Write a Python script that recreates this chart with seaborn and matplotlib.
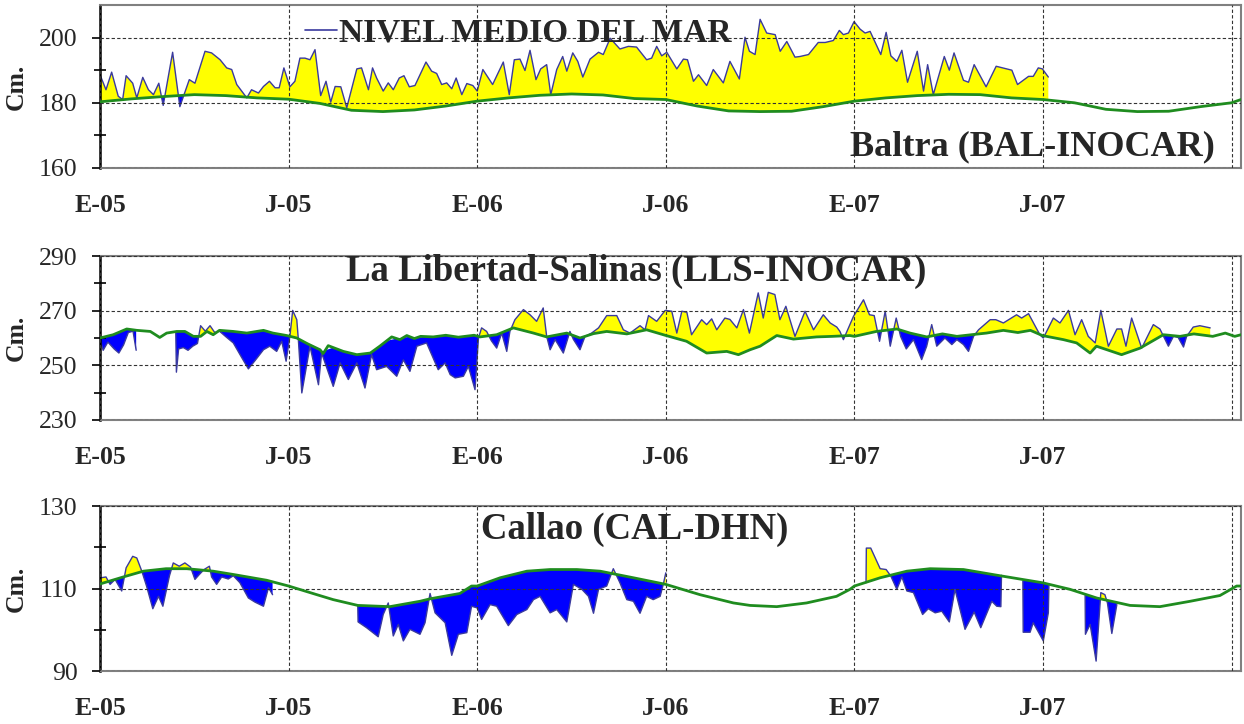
import numpy as np
import matplotlib
matplotlib.use("Agg")
import matplotlib.pyplot as plt
from matplotlib.lines import Line2D
import seaborn as sns

sns.set_theme(style="white")
plt.rcParams['font.family'] = ['Liberation Serif', 'DejaVu Serif']

NAN = np.nan

# ---------------- data (x = months since January 2005) ----------------
tick_months = [0, 6, 12, 18, 24, 30, 36]
tick_labels = ['E-05', 'J-05', 'E-06', 'J-06', 'E-07', 'J-07', '']

# Baltra (BAL-INOCAR)
bal_month = [0, 0.19, 0.37, 0.58, 0.72, 0.83, 1.04, 1.17, 1.36, 1.54, 1.7, 1.87, 2.01, 2.31, 2.54,
             2.84, 3.02, 3.34, 3.55, 3.82, 4.03, 4.19, 4.35, 4.67, 4.82, 5.04, 5.2, 5.39, 5.57, 5.7,
             5.85, 6.04, 6.2, 6.36, 6.52, 6.68, 6.84, 7.02, 7.19, 7.34, 7.48, 7.66, 7.85, 8.17, 8.32,
             8.54, 8.67, 8.8, 9.01, 9.17, 9.33, 9.52, 9.67, 9.84, 10.02, 10.37, 10.55, 10.71, 10.87,
             11.03, 11.19, 11.33, 11.51, 11.67, 11.86, 12.0, 12.18, 12.49, 12.83, 13.02, 13.18, 13.36,
             13.52, 13.68, 13.87, 14.02, 14.21, 14.34, 14.53, 14.72, 14.85, 15.04, 15.2, 15.36, 15.59,
             15.86, 16.01, 16.23, 16.54, 16.81, 17.07, 17.39, 17.55, 17.71, 17.87, 18.03, 18.35, 18.56,
             18.69, 18.88, 19.04, 19.3, 19.51, 19.83, 20.04, 20.34, 20.52, 20.66, 20.84, 21.0, 21.21,
             21.48, 21.64, 21.85, 22.11, 22.27, 22.54, 22.85, 23.07, 23.33, 23.52, 23.65, 23.81, 23.99,
             24.18, 24.34, 24.5, 24.84, 25.01, 25.16, 25.35, 25.51, 25.69, 26.0, 26.2, 26.33, 26.51,
             26.86, 27.02, 27.17, 27.47, 27.63, 27.81, 28.19, 28.51, 29.01, 29.19, 29.54, 29.69, 29.85,
             29.98, 30.17]
bal_level = [188.6, 184, 189.4, 182, 181, 188.3, 186, 181.5, 187.8, 184, 182.5, 186, 179.2, 195.5, 178.8,
             187.1, 186, 195.8, 195.3, 193.2, 190.7, 190.2, 185.6, 181.5, 184, 183, 185, 186.6, 184.6, 184.6,
             190.7, 184.9, 186.6, 193.7, 193.7, 193.2, 196.3, 182.2, 186.6, 180.2, 185, 184.9, 178.5, 190.4, 190.7,
             184, 190.7, 187.6, 183.6, 186.1, 184, 187.6, 188.3, 184.9, 185.3, 192.5, 189.7, 189, 185.6,
             186.1, 184.3, 187.6, 182.5, 185.9, 185.3, 183.6, 190.2, 185.6, 192.5, 182.5, 193.2, 193.4,
             189.9, 196.1, 187.1, 190.4, 191.7, 182.5, 190.2, 194.2, 189.7, 195.3, 192.7, 187.9, 193.4,
             195.5, 194.8, 199.8, 196.5, 197.3, 197.1, 193.2, 193.7, 197.3, 194.4, 195.5, 190.4, 193.4,
             193.2, 186.6, 188.6, 185.3, 190.2, 186.1, 192.7, 187.3, 200.1, 195.8, 194.8, 205.6, 201.4,
             200.9, 195.8, 198.8, 194, 194.2, 194.8, 198.5, 198.5, 199.1, 202.2, 200.9, 201.4, 204.9,
             202.6, 201.4, 201.9, 194.8, 201.6, 194.4, 192.7, 196.1, 186.3, 195.8, 183.6, 191.7, 182.5,
             194.2, 190, 195.3, 186.9, 186.3, 191.7, 184.9, 191.2, 190, 185.6, 188.1, 188.1, 190.7,
             190.4, 187.9]
bal_clim_month = [0, 1, 2, 3, 4, 5, 6, 7, 8, 9, 10, 11, 12, 13, 14, 15, 16, 17, 18, 19, 20, 21, 22, 23, 24,
                  25, 26, 27, 28, 29, 30, 31, 32, 33, 34, 35, 36, 36.3]
bal_clim = [180.3, 181.2, 181.9, 182.5, 182.2, 181.5, 181.1, 179.8, 177.7, 177.3, 177.8, 179.0, 180.5,
            181.5, 182.3, 182.7, 182.4, 181.3, 181.0, 179.0, 177.5, 177.3, 177.4, 178.8, 180.5,
            181.5, 182.2, 182.6, 182.5, 181.5, 181.0, 180.0, 178.0, 177.3, 177.4, 178.8, 180.0, 181.0]

# La Libertad-Salinas (LLS-INOCAR)
lls_month = [0.0, 0.1, 0.25, 0.45, 0.6, 0.75, 0.9, 1.05, 1.15, 1.8,
             2.41, 2.43, 2.5, 2.65, 2.8, 2.95, 3.1, 3.2, 3.35, 3.5, 3.65, 3.8, 4.0, 4.24, 4.5, 4.72,
             4.95, 5.2, 5.4, 5.62, 5.78, 5.92, 6.04, 6.13, 6.26, 6.31, 6.42, 6.68, 6.95, 7.05, 7.42,
             7.64, 7.9, 8.17, 8.43, 8.64, 8.8, 9.12, 9.44, 9.65, 9.86, 10.08, 10.39, 10.76, 10.98,
             11.14, 11.3, 11.56, 11.72, 11.93, 12.04, 12.14, 12.3, 12.45, 12.62, 12.78, 12.94, 13.04,
             13.2, 13.47, 13.68, 13.89, 14.1, 14.21, 14.32, 14.48, 14.74, 14.95, 15.06, 15.27, 15.43,
             15.64, 15.86, 16.12, 16.44, 16.65, 16.86, 17.18, 17.34, 17.45, 17.71, 17.98, 18.19, 18.35,
             18.51, 18.67, 18.82, 19.14, 19.3, 19.46, 19.62, 19.88, 20.04, 20.26, 20.47, 20.66, 20.94,
             21.1, 21.26, 21.47, 21.63, 21.82, 22.11, 22.43, 22.7, 23.01, 23.23, 23.44, 23.54, 23.65,
             23.97, 24.29, 24.48, 24.63, 24.8, 24.98, 25.14, 25.33, 25.47, 25.65, 25.88, 26.14, 26.3,
             26.46, 26.62, 26.88, 27.1, 27.26, 27.47, 27.63, 27.79, 27.95, 28.32, 28.5, 28.74, 29.16,
             29.32, 29.54, 29.9, 30.01, 30.33, 30.54, 30.81, 31.02, 31.23, 31.44, 31.66, 31.84, 32.08,
             32.35, 32.5, 32.64, 32.82, 33.14, 33.51, 33.72, 33.99, 34.15, 34.3, 34.47, 34.57, 34.78,
             34.99, 35.32]
lls_level = [259.5, 255.5, 258.5, 256, 254.5, 257.5, 262, 262.5, 255.5, NAN,
             262, 247.5, 256, 256.5, 255.5, 257, 258, 264.5, 262.5, 264.5, 262, 262.5, 260.5, 258.2, 253, 248.7,
             252, 255.7, 257, 255.1, 258.8, 251.5, 260.6, 270.1, 266.7, 259.4, 239.9, 257, 242.9, 254.5, 242.3,
             250.9, 244.8, 250.9, 241.7, 253.9, 248.4, 249.6, 246, 252, 247.8, 257, 258.2, 248.4, 250.9,
             246.6, 245.4, 246, 249.6, 241.1, 260, 263.7, 262.4, 259, 256.3, 261.8, 255.1, 262.4,
             266.7, 270.4, 268.5, 266.1, 271, 260.6, 255.7, 259.4, 254.5, 262.4, 259.5, 255.7, 260.6,
             261.8, 263.7, 268.2, 268.2, 263, 261.8, 264.5, 263, 268.2, 266.1, 270.1, 269.8, 261.8,
             269.8, 269.4, 261.2, 266.7, 264.9, 267, 263, 267.3, 266.8, 263.7, 270.4, 261.8, 276.5,
             267.3, 276.7, 275.9, 266.7, 271.6, 260.6, 269.8, 263, 268.5, 265.5, 264, 262.4, 259.4,
             267.9, 274, 268.5, 268.2, 258.8, 269.8, 257, 267.3, 260.6, 256, 259.4, 252.1, 257,
             264.9, 257, 260, 257.6, 259.4, 257.6, 255.1, 260.6, 263, 266.7, 266.7, 265.5, 268.5,
             267.3, 268.9, 261.2, 260, 267.3, 265.5, 270.1, 261.2, 266.7, 260.6, 258.2, 270.1, 257,
             263.3, 263.3, 257, 267.3, 256.3, 264.9, 263.3, 257, 260.6, 260.2, 256.7, 260.6, 264,
             264.5, 263.7]
lls_clim_month = [0, 0.42, 0.85, 1.17, 1.6, 1.9, 2.12, 2.44, 2.7, 2.97, 3.2, 3.4, 3.6, 3.8, 4.24, 4.67,
                  5.2, 5.5, 5.94, 6.26, 6.6, 7.0, 7.1, 7.26, 7.74, 8.17, 8.6, 8.9, 9.28, 9.54, 9.76, 10.0,
                  10.2, 10.6, 11.0, 11.4, 11.9, 12.09, 12.62, 13.15, 13.79, 14.21, 14.85, 15.27, 15.7,
                  16.12, 16.76, 17.39, 17.98, 18.66, 19.3, 19.94, 20.31, 20.68, 21.0, 21.53, 22.06, 22.8,
                  23.3, 23.86, 24.0, 24.7, 25.35, 25.77, 26.3, 26.8, 27.26, 27.8, 28.2, 28.74, 29.2, 29.6,
                  29.98, 30.65, 31.07, 31.5, 31.7, 32.5, 33.09, 33.83, 34.36, 34.8, 35.4, 35.8, 36.1, 36.3]
lls_clim = [260, 261.2, 263.3, 262.8, 262.4, 260.2, 261.8, 262.4, 262.4, 260.6, 260.6, 262.4, 261.2, 262.8,
            262.4, 261.8, 262.8, 261.8, 260.9, 260, 257.9, 255.7, 254.3, 257.2, 255.1, 253.9, 254.5, 257,
            260.4, 259.4, 260.9, 259.8, 260.6, 260.4, 261, 260.3, 261, 260.4, 261.2, 263.7, 261.8, 260.4,
            261.8, 260, 261.6, 262.4, 261.5, 263, 261, 258.8, 254.5, 255.1, 253.9, 255.7, 257, 260.9,
            259.6, 260.4, 260.6, 260.9, 260.6, 262.4, 263.3, 261.8, 260.4, 261.5, 260.6, 261.3, 261.8,
            262.8, 262, 262.8, 260.9, 259.4, 258.2, 254.5, 257, 253.9, 256.3, 261.2, 260.6, 261.5,
            260.6, 261.8, 260.6, 261.2]

# Callao (CAL-DHN)
cal_month = [0.03, 0.19, 0.32, 0.48, 0.69, 0.83, 1.04, 1.17, 1.33, 1.48, 1.68, 1.86, 2.0, 2.21, 2.33,
             2.52, 2.7, 2.88, 3.02, 3.16, 3.31, 3.48, 3.55, 3.71, 3.87, 4.08, 4.24, 4.45, 4.72, 4.93,
             5.2, 5.36, 5.49, 7.0,
             8.2, 8.21, 8.48, 8.85, 9.01, 9.17, 9.33, 9.49, 9.65, 9.86, 10.18, 10.34, 10.5, 10.66,
             10.98, 11.19, 11.4, 11.67, 11.82, 12.0, 12.14, 12.41, 12.62, 12.99, 13.26, 13.58, 13.79,
             14.0, 14.32, 14.53, 14.85, 15.06, 15.33, 15.54, 15.7, 15.86, 16.12, 16.33, 16.54, 16.76,
             16.97, 17.18, 17.39, 17.6, 17.82, 17.92, 18.0, 21.0,
             24.37, 24.38, 24.52, 24.82, 25.01, 25.16, 25.35, 25.51, 25.67, 25.88, 26.17, 26.35, 26.57,
             26.78, 27.02, 27.2, 27.52, 27.81, 28.02, 28.37, 28.53, 28.66, 28.68, 29.0,
             29.36, 29.37, 29.59, 29.69, 30.01, 30.17, 30.19, 30.8,
             31.34, 31.35, 31.5, 31.69, 31.84, 31.97, 32.05, 32.19, 32.35]
cal_level = [112.6, 112.8, 111, 112.2, 109.4, 115, 117.8, 117.4, 114.2, 110.6, 105.1, 108.1, 105.7, 113.1, 116.2,
             115.4, 116.2, 115.2, 112.2, 113.4, 114.6, 115.4, 112.8, 111, 112.8, 112.3, 113.1, 111.4, 107.7, 106.7,
             105.7, 110.2, 108.5, NAN,
             105.9, 101.9, 100.5, 98.3, 103.7, 106.5, 98.5, 101.3, 97.3, 100.1, 98.9, 101.7, 108.8, 104.1,
             101.7, 93.8, 98.9, 99.3, 105.7, 105.3, 102.5, 106.1, 105.7, 101, 103.7, 104.9, 107.3,
             108.1, 104.1, 104.9, 101.9, 111, 109.8, 108.1, 104, 109.8, 110.6, 114.8, 111.4, 107.3,
             106.9, 104, 108.1, 107.3, 108.1, 111, 113.8, NAN,
             111.4, 119.8, 119.8, 114.8, 114.6, 113, 109.8, 112.8, 109.4, 109, 103.7, 105.1, 104.1,
             104.5, 101.9, 109.8, 100.1, 104.3, 100.5, 106.9, 105.7, 105.6, 113.2, NAN,
             111.8, 99.4, 99.4, 101.7, 97.3, 104.1, 111, NAN,
             108.3, 98.9, 101.3, 92.4, 109, 108.5, 106.5, 99.1, 106.1]
cal_clim_month = [0, 0.74, 1.38, 2.1, 2.76, 3.6, 4.24, 5.3, 6.0, 6.9, 7.42, 8.2, 9.22, 10.18, 10.5, 11.45,
                  11.82, 12.0, 12.73, 13.58, 14.32, 15.17, 15.91, 16.97, 18.0, 19.09, 20.15, 20.68, 21.53,
                  22.48, 23.43, 23.86, 24.0, 24.82, 25.67, 26.41, 27.47, 28.63, 29.98, 30.86, 31.71, 32.77,
                  33.72, 34.68, 35.63, 36.16, 36.3]
cal_clim = [111.1, 112.8, 114.2, 114.8, 114.8, 114.2, 113.4, 112.0, 110.6, 108.5, 107.3, 105.9, 105.6, 106.9,
            107.5, 108.8, 110.6, 110.6, 112.6, 114.2, 114.6, 114.6, 114.2, 112.6, 111.0, 108.5, 106.5, 105.9,
            105.6, 106.5, 108.1, 109.8, 110.6, 112.6, 114.2, 114.8, 114.6, 113.1, 111.4, 109.8, 107.7, 105.9,
            105.6, 106.9, 108.3, 110.6, 110.6]

stations = [
    dict(m=bal_month, v=bal_level, cm=bal_clim_month, cv=bal_clim, ylim=(160, 210),
         major=[160, 180, 200], minor=[170, 190]),
    dict(m=lls_month, v=lls_level, cm=lls_clim_month, cv=lls_clim, ylim=(230, 290),
         major=[230, 250, 270, 290], minor=[240, 260, 280]),
    dict(m=cal_month, v=cal_level, cm=cal_clim_month, cv=cal_clim, ylim=(90, 130),
         major=[90, 110, 130], minor=[100, 120]),
]

NAVY = '#3a3a9e'
GREEN = '#1f8c1f'
YELLOW = '#ffff00'
BLUE = '#0000ff'

fig = plt.figure(figsize=(12.44, 7.24), dpi=100)
rects = [[0.0804, 0.768, 0.9172, 0.2251],
         [0.0804, 0.4199, 0.9172, 0.2265],
         [0.0804, 0.0732, 0.9172, 0.2279]]
axes = []
for rect, st in zip(rects, stations):
    ax = fig.add_axes(rect)
    axes.append(ax)
    m = np.asarray(st['m'], float)
    v = np.asarray(st['v'], float)
    cm = np.asarray(st['cm'], float)
    cv = np.asarray(st['cv'], float)
    base = np.interp(m, cm, cv)
    ax.fill_between(m, base, v, where=v >= base, interpolate=True, color=YELLOW, lw=0, zorder=1)
    ax.fill_between(m, base, v, where=v < base, interpolate=True, color=BLUE, lw=0, zorder=1)
    # observed series, one line per continuous segment
    gaps = np.where(np.isnan(v))[0]
    start = 0
    for g in list(gaps) + [len(v)]:
        if g - start > 1:
            sns.lineplot(x=m[start:g], y=v[start:g], ax=ax, color=NAVY, lw=1.0,
                         sort=False, estimator=None, zorder=2)
        start = g + 1
    sns.lineplot(x=cm, y=cv, ax=ax, color=GREEN, lw=2.0, sort=False, estimator=None, zorder=3)

    ax.set_xlim(0, 36.3)
    ax.set_ylim(*st['ylim'])
    ax.set_xticks(tick_months)
    ax.set_xticklabels(tick_labels, fontsize=18.5, fontweight='bold')
    ax.set_yticks(st['major'])
    ax.set_yticks(st['minor'], minor=True)
    ax.set_yticklabels([str(t) for t in st['major']], fontsize=18.5)
    ax.tick_params(axis='x', length=0, pad=19)
    ax.tick_params(axis='y', which='major', direction='out', length=6, width=1.2,
                   color='black', pad=10, left=True)
    ax.tick_params(axis='y', which='minor', direction='inout', length=9, width=1.2,
                   color='black', left=True)
    ax.grid(True, which='major', color='#333333', linestyle=(0, (3, 2)), linewidth=0.8)
    ax.set_axisbelow(False)
    for side in ['top', 'right', 'bottom']:
        ax.spines[side].set_color('#808080')
        ax.spines[side].set_linewidth(1.5)
    ax.spines['left'].set_color('black')
    ax.spines['left'].set_linewidth(1.8)
    ax.set_ylabel('Cm.', fontsize=18.5, fontweight='bold')
    ax.yaxis.set_label_coords(-0.063, 0.5)
    ax.set_xlabel('')
    if ax.get_legend() is not None:
        ax.get_legend().remove()

ax1, ax2, ax3 = axes
handle = Line2D([0], [0], color=NAVY, lw=1.2)
ax1.legend([handle], ['NIVEL MEDIO DEL MAR'], loc='center left', bbox_to_anchor=(0.18, 0.83),
           frameon=False, handlelength=0.95, handletextpad=0.05, borderpad=0, borderaxespad=0,
           prop={'weight': 'bold', 'size': 24})
ax1.text(0.977, 0.13, 'Baltra (BAL-INOCAR)', transform=ax1.transAxes, ha='right', va='center',
         fontsize=26, fontweight='bold', zorder=5)
ax2.text(0.47, 0.905, 'La Libertad-Salinas (LLS-INOCAR)', transform=ax2.transAxes, ha='center',
         va='center', fontsize=26.5, fontweight='bold', zorder=5)
ax3.text(0.469, 0.855, 'Callao (CAL-DHN)', transform=ax3.transAxes, ha='center', va='center',
         fontsize=26.5, fontweight='bold', zorder=5)

fig.savefig('out.png', dpi=100)
